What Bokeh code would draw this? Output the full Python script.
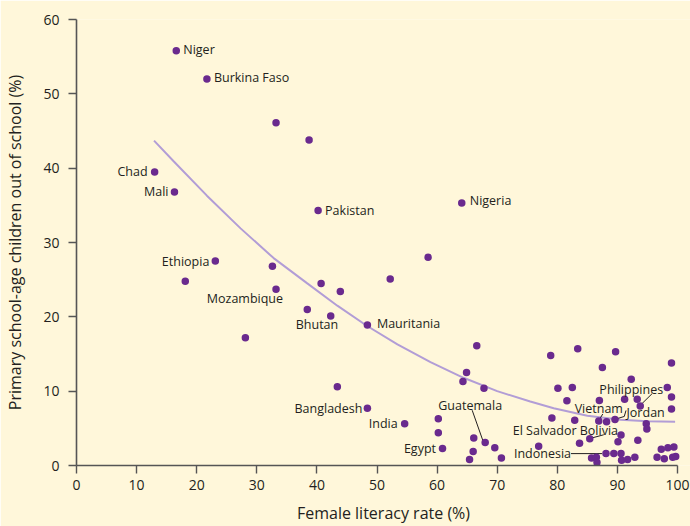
from bokeh.plotting import figure
from bokeh.models import ColumnDataSource, FixedTicker, Range1d
from bokeh.core.properties import value
from bokeh.embed import file_html
from bokeh.resources import INLINE

# ---------------- data ----------------
# labelled countries: female literacy rate (%), primary-age children out of school (%)
label_names = ["Niger", "Burkina Faso", "Chad", "Mali", "Pakistan", "Nigeria",
               "Ethiopia", "Mozambique", "Bhutan", "Mauritania", "Bangladesh",
               "India", "Egypt", "Guatemala", "El Salvador", "Bolivia",
               "Vietnam", "Jordan", "Philippines", "Indonesia"]
label_lit = [16.6, 21.7, 13.0, 16.3, 40.2, 64.1, 23.1, 33.2, 42.3, 48.4, 48.4,
             54.6, 60.9, 68.0, 83.7, 85.4, 86.9, 89.6, 93.8, 88.1]
label_oos = [55.8, 52.0, 39.5, 36.8, 34.3, 35.3, 27.5, 23.7, 20.1, 18.9, 7.7,
             5.6, 2.3, 3.1, 3.0, 3.6, 6.0, 6.2, 8.0, 1.6]

# other countries
other_lit = [33.2, 38.7, 58.5, 18.1, 32.6, 40.7, 43.9, 38.4, 28.1, 52.2, 43.4,
             66.6, 64.9, 64.3, 67.8, 60.2, 60.2, 66.1, 69.6, 66.0, 65.4, 70.7,
             76.9, 78.9, 83.4, 89.7, 87.5, 99.0, 92.3, 80.1, 82.5, 98.3, 99.0,
             99.0, 81.6, 87.0, 91.2, 93.3, 79.1, 82.9, 88.2, 94.8, 94.9, 90.6,
             90.1, 93.4, 97.3, 98.4, 99.4, 89.4, 90.6, 92.9, 96.6, 97.8, 99.2,
             99.7, 85.7, 86.5, 86.6, 90.7, 91.7]
other_oos = [46.1, 43.8, 28.0, 24.8, 26.8, 24.5, 23.4, 21.0, 17.2, 25.1, 10.6,
             16.1, 12.5, 11.3, 10.4, 6.3, 4.4, 3.7, 2.4, 1.9, 0.8, 1.0,
             2.6, 14.8, 15.7, 15.3, 13.2, 13.8, 11.6, 10.4, 10.5, 10.5, 9.2,
             7.6, 8.7, 8.75, 8.9, 8.9, 6.4, 6.1, 5.9, 5.6, 4.9, 4.1,
             3.2, 3.4, 2.2, 2.4, 2.5, 1.6, 1.6, 1.1, 1.1, 0.9, 1.1,
             1.2, 1.0, 1.1, 0.4, 0.7, 0.8]

# trend curve
trend_lit = [12.9, 16.2, 21.7, 27.3, 32.8, 38.4, 43.4, 48.3, 53.4, 58.9, 64.4,
             70.0, 75.5, 79.4, 85.0, 90.5, 95.0, 99.6]
trend_oos = [43.7, 40.9, 36.3, 31.9, 27.9, 24.5, 21.5, 18.8, 16.3, 13.9, 11.8,
             10.0, 8.6, 7.7, 6.7, 6.15, 5.95, 5.9]

x_ticks = [0, 10, 20, 30, 40, 50, 60, 70, 80, 90, 100]
y_ticks = [0, 10, 20, 30, 40, 50, 60]

x_title = "Female literacy rate (%)"
y_title = "Primary school-age children out of school (%)"

# ---------------- layout / style ----------------
BG = "#FFF7DA"
DOT = "#6A2A8E"
CURVE = "#B29DD6"
INK = "#231F20"
AXIS = "#555555"
FONT = "Open Sans"

W, H = 690, 526
B_LEFT, B_RIGHT, B_TOP, B_BOTTOM = 76, 0, 19, 57
PX_X = 6.01                      # pixels per literacy point
X_END = (W - B_LEFT - B_RIGHT) / PX_X
Y_END = 60
PX_Y = (H - B_TOP - B_BOTTOM) / Y_END

# label placement: (align, dx px, dy px) relative to the point
label_place = {
    "Niger": ("left", 7, -1),
    "Burkina Faso": ("left", 7, -1),
    "Chad": ("right", -7, 0),
    "Mali": ("right", -6, 0),
    "Pakistan": ("left", 7, 0),
    "Nigeria": ("left", 8, -2.5),
    "Ethiopia": ("right", -6, 0),
    "Mozambique": ("right", 7, 9),
    "Bhutan": ("right", 7.5, 8.5),
    "Mauritania": ("left", 9.5, -1.5),
    "Bangladesh": ("right", -5, 0),
    "India": ("right", -7, 0),
    "Egypt": ("right", -6.5, 0),
    "Guatemala": ("center", -15, -37),
    "El Salvador": ("right", -3, -13),
    "Bolivia": ("left", -10, -8),
    "Vietnam": ("center", 0, -12),
    "Jordan": ("left", 11.5, -6.5),
    "Philippines": ("center", -9, -16.5),
    "Indonesia": ("right", -35, 0),
}
# leader lines: pixel offsets from the point
leaders = {
    "Guatemala": [(-13, -32.5), (-2, -1)],
    "Bolivia": [(14, -4), (1, -0.5)],
    "Vietnam": [(4, -7), (1, -2)],
    "Jordan": [(11, -9), (9.3, -3), (1.7, -0.6)],
    "Philippines": [(11.7, -12.3), (1, -1.7)],
    "Indonesia": [(-35, 0), (-4, 0)],
}

p = figure(width=W, height=H, output_backend="svg", toolbar_location=None,
           x_range=Range1d(0, X_END), y_range=Range1d(0, Y_END),
           min_border_left=B_LEFT, min_border_right=B_RIGHT,
           min_border_top=B_TOP, min_border_bottom=B_BOTTOM,
           background_fill_color=BG, border_fill_color=BG)
p.outline_line_color = None
p.grid.visible = False

# trend curve
p.line(trend_lit, trend_oos, line_color=CURVE, line_width=2)

# leader lines
for name, pts in leaders.items():
    i = label_names.index(name)
    x0, y0 = label_lit[i], label_oos[i]
    xs = [x0 + dx / PX_X for dx, dy in pts]
    ys = [y0 - dy / PX_Y for dx, dy in pts]
    p.line(xs, ys, line_color=INK, line_width=1)

# dots
p.scatter(other_lit, other_oos, size=7.5, fill_color=DOT, line_color=None)
p.scatter(label_lit, label_oos, size=7.5, fill_color=DOT, line_color=None)

# labels grouped by alignment
for align in ("left", "right", "center"):
    idx = [i for i, n in enumerate(label_names) if label_place[n][0] == align]
    src = ColumnDataSource(dict(
        x=[label_lit[i] for i in idx],
        y=[label_oos[i] for i in idx],
        t=[label_names[i] for i in idx],
        dx=[label_place[label_names[i]][1] for i in idx],
        dy=[label_place[label_names[i]][2] for i in idx],
    ))
    p.text(x="x", y="y", text="t", x_offset="dx", y_offset="dy", source=src,
           text_align=align, text_baseline="middle", text_font=value(FONT),
           text_font_size="12.5px", text_color=INK)

# axes
for ax, ticks, title, bounds in ((p.xaxis[0], x_ticks, x_title, (0, 100)),
                                 (p.yaxis[0], y_ticks, y_title, (0, 60))):
    ax.ticker = FixedTicker(ticks=ticks)
    ax.bounds = bounds
    ax.axis_label = title
    ax.axis_line_color = AXIS
    ax.axis_line_width = 1.6
    ax.major_tick_line_color = AXIS
    ax.major_tick_line_width = 1.4
    ax.major_tick_in = 0
    ax.major_tick_out = 8
    ax.minor_tick_line_color = None
    ax.major_label_text_font = FONT
    ax.major_label_text_font_size = "14px"
    ax.major_label_text_color = INK
    ax.axis_label_text_font = FONT
    ax.axis_label_text_font_size = "16px"
    ax.axis_label_text_font_style = "normal"
    ax.axis_label_text_color = INK

p.xaxis.major_label_standoff = 6
p.xaxis.axis_label_standoff = 9
p.yaxis.major_label_standoff = 9
p.yaxis.axis_label_standoff = 14

html = file_html(p, INLINE)
html = html.replace("<body>", '<body style="background-color:%s;">' % BG, 1)
open("out.html", "w").write(html)
